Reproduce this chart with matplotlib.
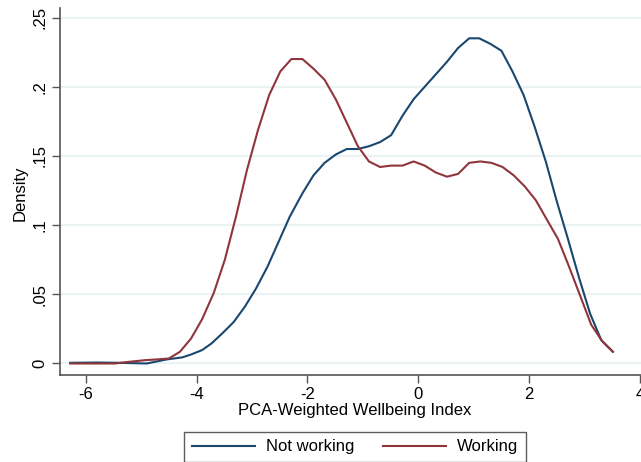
import numpy as np
import matplotlib
matplotlib.use("Agg")
from matplotlib import pyplot as plt

# Kernel density values
x_not = [-6.28, -5.8, -5.4, -4.9, -4.53, -4.26, -4.1, -3.9, -3.73, -3.53, -3.33, -3.13,
         -2.93, -2.72, -2.52, -2.32, -2.09, -1.89, -1.69, -1.49, -1.29, -1.09, -0.89,
         -0.69, -0.49, -0.285, -0.084, 0.116, 0.317, 0.517, 0.718, 0.918, 1.099, 1.30,
         1.50, 1.70, 1.90, 2.10, 2.30, 2.50, 2.70, 2.90, 3.10, 3.30, 3.51]
d_not = [0.0005, 0.0007, 0.0005, 0.0, 0.003, 0.0044, 0.0065, 0.0097, 0.0145, 0.022, 0.030,
         0.041, 0.054, 0.070, 0.088, 0.106, 0.123, 0.136, 0.145, 0.151, 0.155, 0.155,
         0.157, 0.160, 0.165, 0.179, 0.191, 0.200, 0.209, 0.218, 0.228, 0.235, 0.235,
         0.231, 0.226, 0.211, 0.194, 0.171, 0.146, 0.117, 0.090, 0.062, 0.036, 0.017,
         0.0085]

x_work = [-6.28, -5.47, -5.27, -4.93, -4.7, -4.5, -4.3, -4.1, -3.9, -3.69, -3.49, -3.29,
          -3.09, -2.89, -2.69, -2.49, -2.29, -2.09, -1.89, -1.69, -1.49, -1.29, -1.09,
          -0.89, -0.69, -0.49, -0.285, -0.084, 0.116, 0.317, 0.517, 0.718, 0.918, 1.12,
          1.32, 1.52, 1.72, 1.92, 2.12, 2.32, 2.52, 2.72, 2.92, 3.12, 3.32, 3.51]
d_work = [0.0, 0.0, 0.001, 0.0024, 0.003, 0.0036, 0.0085, 0.018, 0.032, 0.051, 0.075,
          0.106, 0.140, 0.169, 0.194, 0.211, 0.220, 0.220, 0.213, 0.205, 0.191, 0.174,
          0.157, 0.146, 0.142, 0.143, 0.143, 0.146, 0.143, 0.138, 0.135, 0.137, 0.145,
          0.146, 0.145, 0.142, 0.136, 0.128, 0.118, 0.104, 0.090, 0.070, 0.049, 0.028,
          0.016, 0.0085]

xticks = [-6, -4, -2, 0, 2, 4]
yticks = [0, 0.05, 0.1, 0.15, 0.2, 0.25]
ytick_labels = ['0', '.05', '.1', '.15', '.2', '.25']

plt.rcParams['font.family'] = ['Liberation Sans', 'DejaVu Sans']
fs = 12
W, H = 641, 462
fig = plt.figure(figsize=(W / 100, H / 100), dpi=100)
fig.patch.set_facecolor('white')
ax = fig.add_axes([60 / W, (H - 374.5) / H, (W - 60) / W, (374.5 - 8) / H])

ax.plot(x_not, d_not, color='#1a476f', lw=1.5, label='Not working', zorder=3)
ax.plot(x_work, d_work, color='#90353b', lw=1.5, label='Working', zorder=3)

ax.set_xlim(-6.464, 4.018)
ax.set_ylim(-0.00795, 0.2569)
ax.set_xticks(xticks)
ax.set_xticklabels([str(t) for t in xticks], fontsize=fs)
ax.set_yticks(yticks)
ax.set_yticklabels(ytick_labels, fontsize=fs, rotation=90, va='center')
ax.grid(axis='y', color='#eaf2f3', lw=1.5, zorder=0)
ax.set_axisbelow(True)
ax.tick_params(direction='out', length=6, width=1, color='#555555', pad=3)
for s in ['top', 'right']:
    ax.spines[s].set_visible(False)
for s in ['left', 'bottom']:
    ax.spines[s].set_color('#555555')
    ax.spines[s].set_linewidth(1.2)

fig.text(355 / W, 1 - 411 / H, 'PCA-Weighted Wellbeing Index', fontsize=fs,
         ha='center', va='center')
fig.text(20 / W, 1 - 193 / H, 'Density', fontsize=fs, rotation=90,
         ha='center', va='center')

leg = fig.legend(loc='center', bbox_to_anchor=(355 / W, 1 - 447 / H), ncol=2,
                 fontsize=fs, frameon=True, fancybox=False, handlelength=3.8,
                 columnspacing=1.7, handletextpad=0.65, borderpad=0.45,
                 borderaxespad=0)
leg.get_frame().set_edgecolor('#333333')
leg.get_frame().set_linewidth(1.0)

fig.savefig('out.png', dpi=100, facecolor='white')
